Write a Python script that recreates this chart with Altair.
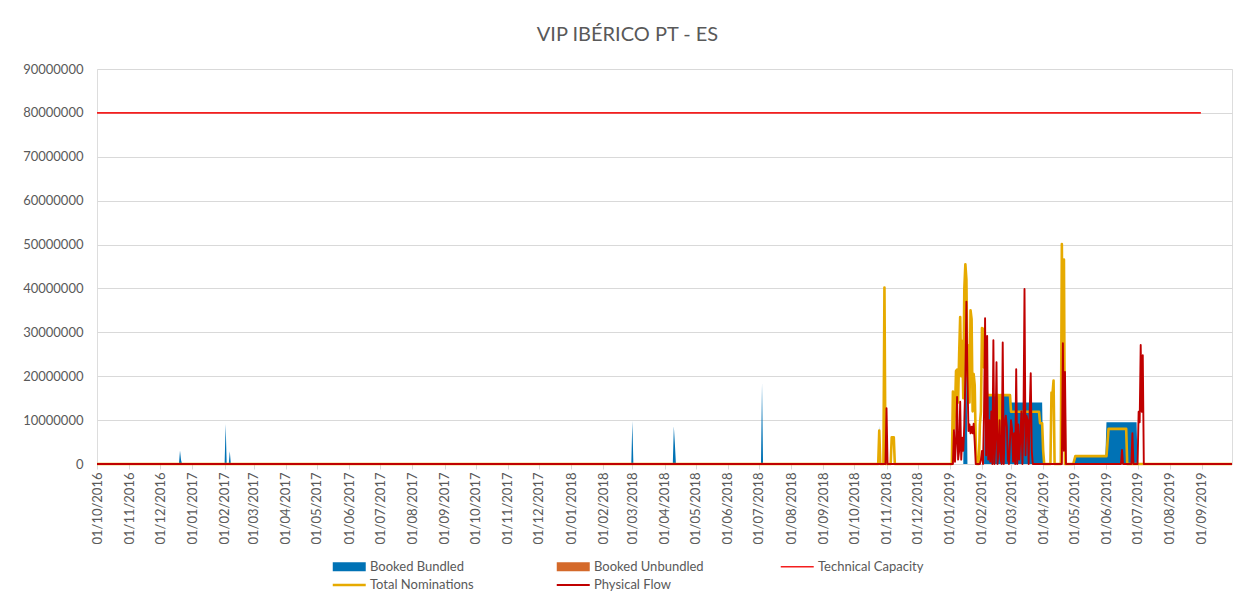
import altair as alt
import pandas as pd

TITLE = "VIP IBÉRICO PT - ES"
series_names = ["Booked Bundled", "Booked Unbundled", "Technical Capacity",
                "Total Nominations", "Physical Flow"]
series_colors = ["#0072B5", "#D4692A", "#F41E1E", "#E6AA00", "#C00000"]

y_ticks = [0, 10000000, 20000000, 30000000, 40000000, 50000000,
           60000000, 70000000, 80000000, 90000000]
month_ticks = [(2016, 10), (2016, 11), (2016, 12), (2017, 1), (2017, 2), (2017, 3),
               (2017, 4), (2017, 5), (2017, 6), (2017, 7), (2017, 8), (2017, 9),
               (2017, 10), (2017, 11), (2017, 12), (2018, 1), (2018, 2), (2018, 3),
               (2018, 4), (2018, 5), (2018, 6), (2018, 7), (2018, 8), (2018, 9),
               (2018, 10), (2018, 11), (2018, 12), (2019, 1), (2019, 2), (2019, 3),
               (2019, 4), (2019, 5), (2019, 6), (2019, 7), (2019, 8), (2019, 9)]

booked_bundled = [
    ("2016-10-01", 0), ("2016-12-19", 0), ("2016-12-20", 3100000), ("2016-12-21", 900000), ("2016-12-22", 0),
    ("2017-02-01", 0), ("2017-02-02", 9100000), ("2017-02-03", 0), ("2017-02-05", 0), ("2017-02-06", 2900000), ("2017-02-07", 0),
    ("2018-02-28", 0), ("2018-03-01", 9800000), ("2018-03-02", 0),
    ("2018-04-09", 0), ("2018-04-10", 8600000), ("2018-04-11", 4600000), ("2018-04-12", 0),
    ("2018-07-03", 0), ("2018-07-04", 18400000), ("2018-07-05", 0),
    ("2018-10-24", 0), ("2018-10-25", 8700000), ("2018-10-26", 0),
    ("2019-01-14", 0), ("2019-01-15", 20000000), ("2019-01-16", 36000000), ("2019-01-17", 25000000), ("2019-01-18", 0),
    ("2019-02-03", 0), ("2019-02-04", 15800000), ("2019-02-28", 15800000), ("2019-03-01", 14000000),
    ("2019-03-31", 14000000), ("2019-04-01", 0),
    ("2019-05-01", 0), ("2019-05-02", 2050000), ("2019-05-31", 2050000), ("2019-06-01", 9500000),
    ("2019-06-30", 9500000), ("2019-07-01", 0), ("2019-09-30", 0),
]

booked_unbundled = [("2016-10-01", 0), ("2019-09-30", 0)]

technical_capacity = [("2016-10-01", 80000000), ("2019-08-31", 80000000)]

total_nominations = [
    ("2016-10-01", 0), ("2018-10-24", 0), ("2018-10-25", 7600000), ("2018-10-26", 0),
    ("2018-10-29", 0), ("2018-10-30", 40200000), ("2018-10-31", 0),
    ("2018-11-05", 0), ("2018-11-06", 6100000), ("2018-11-08", 6100000), ("2018-11-09", 0),
    ("2019-01-03", 0), ("2019-01-04", 16500000), ("2019-01-05", 8000000), ("2019-01-06", 12000000),
    ("2019-01-07", 21200000), ("2019-01-08", 21500000), ("2019-01-09", 14000000), ("2019-01-10", 25000000),
    ("2019-01-11", 33500000), ("2019-01-12", 20000000), ("2019-01-13", 28000000), ("2019-01-14", 15000000),
    ("2019-01-15", 40000000), ("2019-01-16", 45500000), ("2019-01-17", 42000000), ("2019-01-18", 20000000),
    ("2019-01-19", 27000000), ("2019-01-20", 14000000), ("2019-01-21", 35000000), ("2019-01-22", 33000000),
    ("2019-01-23", 12000000), ("2019-01-24", 20500000), ("2019-01-25", 18000000), ("2019-01-26", 5000000),
    ("2019-01-27", 0),
    ("2019-01-29", 0), ("2019-01-30", 9000000), ("2019-01-31", 12000000), ("2019-02-01", 31000000),
    ("2019-02-02", 30800000), ("2019-02-03", 22000000), ("2019-02-04", 29000000), ("2019-02-05", 18000000),
    ("2019-02-06", 15700000), ("2019-02-17", 15700000), ("2019-02-18", 5000000), ("2019-02-19", 15700000),
    ("2019-02-28", 15700000), ("2019-03-01", 11900000), ("2019-03-28", 11900000), ("2019-03-29", 9300000),
    ("2019-03-31", 9300000), ("2019-04-01", 3000000), ("2019-04-02", 0),
    ("2019-04-08", 0), ("2019-04-09", 16300000), ("2019-04-10", 16000000), ("2019-04-11", 19000000),
    ("2019-04-12", 0), ("2019-04-18", 0), ("2019-04-19", 50100000), ("2019-04-20", 15000000),
    ("2019-04-21", 46600000), ("2019-04-22", 0),
    ("2019-04-30", 0), ("2019-05-02", 1800000), ("2019-06-01", 1800000), ("2019-06-03", 8000000),
    ("2019-06-20", 8000000), ("2019-06-21", 0), ("2019-09-30", 0),
]

physical_flow = [
    ("2016-10-01", 0), ("2018-10-31", 0), ("2018-11-01", 12700000), ("2018-11-02", 0),
    ("2019-01-04", 0), ("2019-01-05", 7700000), ("2019-01-06", 500000), ("2019-01-07", 5000000),
    ("2019-01-08", 15300000), ("2019-01-09", 1000000), ("2019-01-10", 3000000), ("2019-01-11", 14200000),
    ("2019-01-12", 1000000), ("2019-01-13", 6000000), ("2019-01-14", 3000000), ("2019-01-15", 9000000),
    ("2019-01-16", 20000000), ("2019-01-17", 37000000), ("2019-01-18", 20000000), ("2019-01-19", 7500000),
    ("2019-01-20", 9000000), ("2019-01-21", 7000000), ("2019-01-22", 8500000), ("2019-01-23", 7000000),
    ("2019-01-24", 9200000), ("2019-01-25", 5000000), ("2019-01-26", 0),
    ("2019-01-30", 0), ("2019-01-31", 1000000), ("2019-02-01", 3000000), ("2019-02-02", 0),
    ("2019-02-03", 12000000), ("2019-02-04", 33200000), ("2019-02-05", 2000000), ("2019-02-06", 29200000),
    ("2019-02-07", 1000000), ("2019-02-08", 10000000), ("2019-02-09", 500000), ("2019-02-10", 12000000),
    ("2019-02-11", 0), ("2019-02-12", 28200000), ("2019-02-13", 0), ("2019-02-14", 6000000),
    ("2019-02-15", 23200000), ("2019-02-16", 0), ("2019-02-17", 3000000), ("2019-02-18", 10000000),
    ("2019-02-19", 1000000), ("2019-02-20", 0), ("2019-02-21", 27700000), ("2019-02-22", 0),
    ("2019-02-23", 9000000), ("2019-02-24", 11000000), ("2019-02-25", 8500000), ("2019-02-26", 1000000),
    ("2019-02-27", 0), ("2019-02-28", 5000000), ("2019-03-01", 10000000), ("2019-03-02", 8000000),
    ("2019-03-03", 500000), ("2019-03-04", 7000000), ("2019-03-05", 0), ("2019-03-06", 21600000),
    ("2019-03-07", 0), ("2019-03-08", 9000000), ("2019-03-09", 1000000), ("2019-03-10", 6000000),
    ("2019-03-11", 12000000), ("2019-03-12", 0), ("2019-03-13", 10000000), ("2019-03-14", 39900000),
    ("2019-03-15", 2000000), ("2019-03-16", 11000000), ("2019-03-17", 10000000), ("2019-03-18", 0),
    ("2019-03-19", 12000000), ("2019-03-20", 20700000), ("2019-03-21", 3000000), ("2019-03-22", 0),
    ("2019-04-19", 0), ("2019-04-20", 27500000), ("2019-04-21", 3000000), ("2019-04-22", 21000000),
    ("2019-04-23", 0),
    ("2019-06-15", 0), ("2019-06-16", 3200000), ("2019-06-17", 0), ("2019-06-25", 0),
    ("2019-06-26", 7000000), ("2019-06-27", 0), ("2019-07-01", 0), ("2019-07-02", 11900000),
    ("2019-07-03", 9500000), ("2019-07-04", 27100000), ("2019-07-05", 11900000), ("2019-07-06", 24800000),
    ("2019-07-07", 0), ("2019-09-30", 0),
]

# legend swatch shapes (style only)
legend_shapes = ["M-1,-0.55H3V0.55H-1Z", "M-1,-0.55H3V0.55H-1Z", "M-1,-0.1H3V0.1H-1Z",
                 "M-1,-0.16H3V0.16H-1Z", "M-1,-0.12H3V0.12H-1Z"]


def frame(name, pairs):
    return pd.DataFrame({"date": [p[0] for p in pairs],
                         "value": [p[1] for p in pairs],
                         "series": [name] * len(pairs)})


df = pd.concat([
    frame("Booked Bundled", booked_bundled),
    frame("Booked Unbundled", booked_unbundled),
    frame("Technical Capacity", technical_capacity),
    frame("Total Nominations", total_nominations),
    frame("Physical Flow", physical_flow),
], ignore_index=True)

FONT = "Lato"
GREY = "#595959"
GRID = "#D9D9D9"

color_scale = alt.Scale(domain=series_names, range=series_colors)
x_enc = alt.X(
    "date:T", title=None,
    scale=alt.Scale(type="utc", domain=[alt.DateTime(year=2016, month=10, date=1, utc=True),
                                        alt.DateTime(year=2019, month=9, date=30, utc=True)]),
    axis=alt.Axis(values=[alt.DateTime(year=y, month=m, date=1, utc=True) for y, m in month_ticks],
                  format="%d/%m/%Y", labelAngle=-90, labelOverlap=False, labelFlush=False,
                  grid=False, domainColor=GRID, tickColor=GRID, tickSize=5, labelPadding=3,
                  labelFont=FONT, labelFontSize=13, labelColor=GREY),
)
y_enc = alt.Y(
    "value:Q", title=None, stack=None,
    scale=alt.Scale(domain=[0, 90000000], nice=False),
    axis=alt.Axis(values=y_ticks, format="d", domain=False, ticks=False, labelPadding=14,
                  gridColor=GRID, gridWidth=1, labelFont=FONT, labelFontSize=13, labelColor=GREY),
)

base = alt.Chart(df)

areas = base.transform_filter(
    alt.FieldOneOfPredicate(field="series", oneOf=["Booked Bundled", "Booked Unbundled"])
).mark_area(opacity=1).encode(
    x=x_enc, y=y_enc,
    color=alt.Color("series:N", scale=color_scale, legend=None),
)


def line_layer(name, width):
    return base.transform_filter(alt.datum.series == name).mark_line(
        strokeWidth=width, strokeJoin="round"
    ).encode(x=x_enc, y=y_enc, color=alt.Color("series:N", scale=color_scale, legend=None))


tech = line_layer("Technical Capacity", 1.6)
noms = line_layer("Total Nominations", 2.6)
flow = line_layer("Physical Flow", 1.9)

legend_layer = base.transform_filter("false").mark_point(filled=True, size=272, opacity=1).encode(
    x=x_enc, y=y_enc,
    color=alt.Color("series:N", scale=color_scale,
                    legend=alt.Legend(title=None, orient="none", legendX=235.5, legendY=489,
                                      direction="horizontal", columns=3, columnPadding=76,
                                      rowPadding=2.5, gridAlign="all", labelOffset=20.5,
                                      symbolSize=272, symbolStrokeWidth=0, padding=0,
                                      labelFont=FONT, labelFontSize=13, labelColor=GREY)),
    shape=alt.Shape("series:N", scale=alt.Scale(domain=series_names, range=legend_shapes)),
)

chart = alt.layer(areas, tech, noms, flow, legend_layer).resolve_legend(
    color="independent", shape="independent"
).properties(
    width=1135, height=395,
    autosize=alt.AutoSizeParams(type="none"),
    padding={"left": 89, "top": 61, "right": 8, "bottom": 130},
    title=alt.TitleParams(TITLE, font=FONT, fontSize=20, fontWeight="normal", color=GREY,
                          anchor="middle", dx=-37, offset=18),
).configure_view(stroke=None).configure(background="white")

chart.save("out.html", embed_options={"renderer": "svg", "actions": False})
